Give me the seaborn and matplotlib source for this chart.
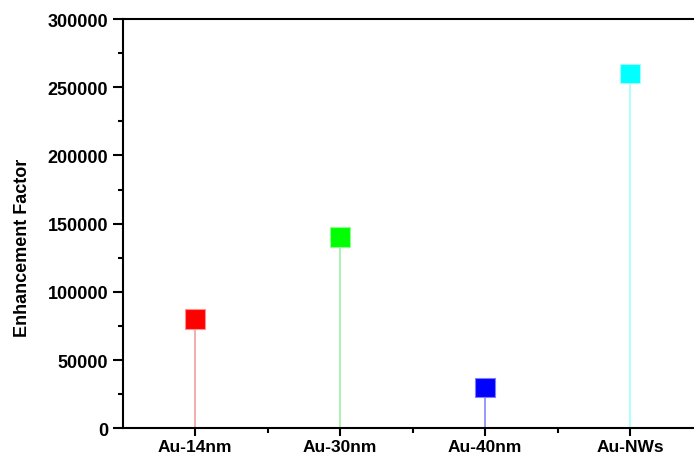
import matplotlib
matplotlib.use("Agg")
import matplotlib.pyplot as plt
from matplotlib.ticker import MultipleLocator, FixedLocator
import seaborn as sns
import pandas as pd

# Enhancement factors per substrate
samples = ["Au-14nm", "Au-30nm", "Au-40nm", "Au-NWs"]
enhancement = [80000, 140000, 30000, 260000]
marker_colors = ["#FF0000", "#00FF00", "#0000FF", "#00FFFF"]
stem_colors = ["#F0A0A0", "#A0F0A0", "#8888FF", "#A0FFFF"]
edge_colors = ["#FF9090", "#90FF90", "#8080FF", "#A0FFFF"]

df = pd.DataFrame({"sample": samples, "ef": enhancement})

sns.set_theme(style="ticks")
plt.rcParams["font.family"] = ["Liberation Sans", "DejaVu Sans"]
plt.rcParams["font.weight"] = "bold"
for key in ["text.color", "axes.labelcolor", "xtick.color", "ytick.color",
            "xtick.labelcolor", "ytick.labelcolor"]:
    plt.rcParams[key] = "black"

fig = plt.figure(figsize=(6.94, 4.60), dpi=100)
ax = fig.add_axes([0.1768, 0.0667, 0.8357, 0.8898])

# Stems from zero up to each value
xpos = list(range(len(samples)))
ax.vlines(xpos, 0, df["ef"], colors=stem_colors, linewidth=1.2, zorder=1)

sns.scatterplot(data=df, x="sample", y="ef", hue="sample", palette=marker_colors,
                marker="s", s=200, linewidth=0.8, edgecolor=edge_colors,
                legend=False, ax=ax, zorder=3, clip_on=False)

ax.set_xlim(-0.5, 3.5)
ax.set_ylim(0, 300000)
ax.yaxis.set_major_locator(MultipleLocator(50000))
ax.yaxis.set_minor_locator(MultipleLocator(25000))
ax.xaxis.set_minor_locator(FixedLocator([0.5, 1.5, 2.5]))

ax.set_xlabel("")
ax.set_ylabel("Enhancement Factor", fontsize=13, fontweight="bold", color="black")
ax.yaxis.set_label_coords(-0.158, 0.444)

for side in ["left", "bottom", "top"]:
    ax.spines[side].set_linewidth(1.5)
    ax.spines[side].set_color("black")
ax.spines["right"].set_visible(False)

ax.tick_params(axis="both", which="major", direction="out", width=1.5,
               color="black", labelcolor="black")
ax.tick_params(axis="both", which="minor", direction="out", length=3.5, width=1.5,
               color="black")
ax.tick_params(axis="y", which="major", length=7, pad=3.5, labelsize=13)
ax.tick_params(axis="x", which="major", length=6, pad=2, labelsize=12.5)
ax.tick_params(top=False, right=False, which="both")
for lbl in ax.get_xticklabels() + ax.get_yticklabels():
    lbl.set_fontweight("bold")

fig.savefig("out.png", dpi=100)
